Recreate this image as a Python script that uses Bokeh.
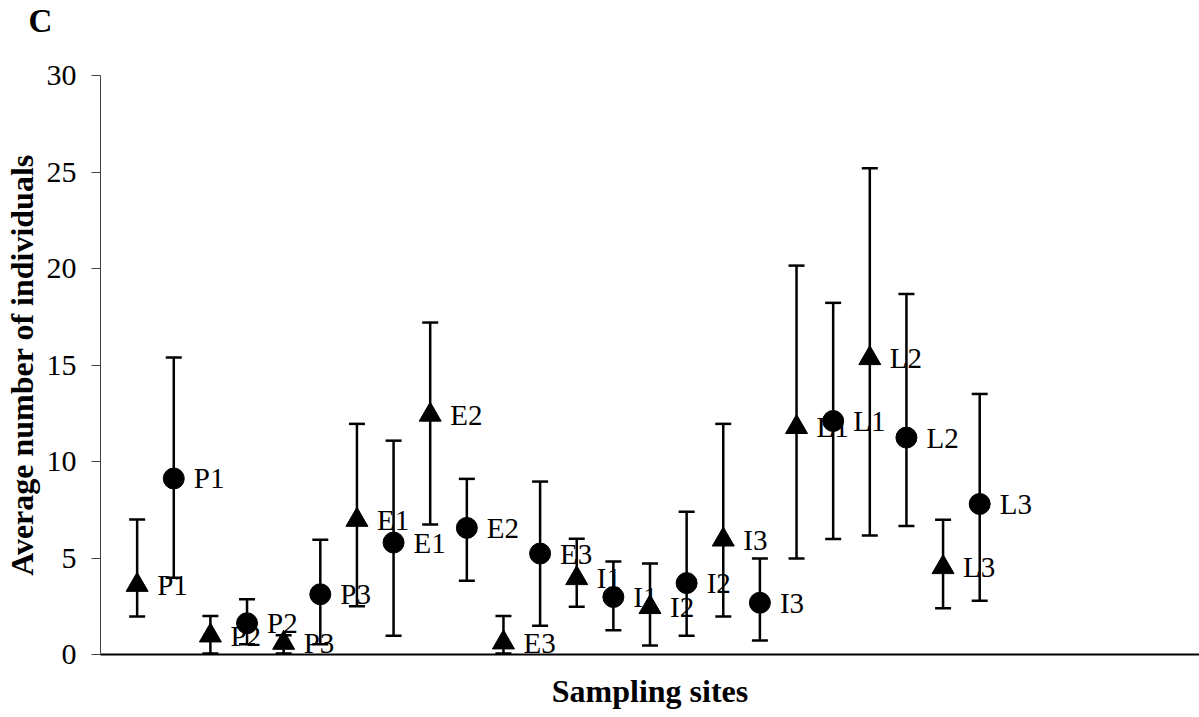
from bokeh.plotting import figure
from bokeh.models import ColumnDataSource, Whisker, TeeHead, FixedTicker, Range1d, Title
from bokeh.core.properties import value
from bokeh.embed import file_html
from bokeh.resources import INLINE

# Triangle series (odd positions) and circle series (even positions)
tri_labels = ["P1", "P2", "P3", "E1", "E2", "E3", "I1", "I2", "I3", "L1", "L2", "L3"]
tri_x = [1, 3, 5, 7, 9, 11, 13, 15, 17, 19, 21, 23]
tri_mean = [3.6, 0.98, 0.6, 6.97, 12.42, 0.62, 3.95, 2.45, 5.95, 11.78, 15.35, 4.52]
tri_upper = [7.0, 2.0, 1.0, 11.95, 17.2, 2.0, 6.0, 4.72, 11.95, 20.15, 25.2, 6.98]
tri_lower = [1.97, 0.05, 0.05, 2.5, 6.74, 0.05, 2.48, 0.46, 1.97, 4.97, 6.17, 2.4]

circ_labels = ["P1", "P2", "P3", "E1", "E2", "E3", "I1", "I2", "I3", "L1", "L2", "L3"]
circ_x = [2, 4, 6, 8, 10, 12, 14, 16, 18, 20, 22, 24]
circ_mean = [9.12, 1.62, 3.12, 5.8, 6.56, 5.23, 2.98, 3.7, 2.68, 12.1, 11.24, 7.8]
circ_upper = [15.39, 2.86, 5.95, 11.08, 9.1, 8.96, 4.82, 7.4, 4.98, 18.22, 18.68, 13.5]
circ_lower = [3.98, 0.53, 0.53, 0.97, 3.82, 1.49, 1.26, 0.97, 0.72, 5.98, 6.66, 2.78]

y_ticks = [0, 5, 10, 15, 20, 25, 30]

FONT = "Liberation Serif"

p = figure(width=1199, height=717, output_backend="svg", toolbar_location=None,
           x_range=Range1d(0, 30), y_range=Range1d(0, 30),
           min_border_left=99, min_border_right=0, min_border_top=75, min_border_bottom=63)
p.title = None
p.outline_line_color = None
p.grid.visible = False
p.background_fill_color = "white"
p.border_fill_color = "white"

# spacer (closest to frame) then the panel letter above it
spacer = Title(text=" ", text_font=FONT, text_font_size="28px", standoff=0)
letter = Title(text="C", align="left", offset=-72, standoff=4, vertical_align="top",
               text_font=FONT, text_font_size="33px", text_font_style="bold", text_color="black")
p.add_layout(spacer, "above")
p.add_layout(letter, "above")

tri_src = ColumnDataSource(dict(x=tri_x, y=tri_mean, up=tri_upper, lo=tri_lower, lab=tri_labels))
circ_src = ColumnDataSource(dict(x=circ_x, y=circ_mean, up=circ_upper, lo=circ_lower, lab=circ_labels))

for src in (tri_src, circ_src):
    w = Whisker(source=src, base="x", upper="up", lower="lo", dimension="height",
                line_color="black", line_width=2.5,
                upper_head=TeeHead(size=16, line_width=2.5, line_color="black"),
                lower_head=TeeHead(size=16, line_width=2.5, line_color="black"))
    p.add_layout(w)

p.scatter("x", "y", source=tri_src, marker="triangle", size=22, fill_color="black", line_color="black")
p.scatter("x", "y", source=circ_src, marker="circle", size=21, fill_color="black", line_color="black")

for src in (tri_src, circ_src):
    p.text("x", "y", text="lab", source=src, x_offset=20, text_baseline="middle", text_align="left",
           text_font=value(FONT), text_font_size="29px", text_color="black")

# y axis
ya = p.yaxis[0]
ya.ticker = FixedTicker(ticks=y_ticks)
ya.minor_tick_line_color = None
ya.major_tick_in = 0
ya.major_tick_out = 9
ya.major_tick_line_color = "#404040"
ya.axis_line_color = "#404040"
ya.major_label_standoff = 15
ya.major_label_text_font = FONT
ya.major_label_text_font_size = "30px"
ya.major_label_text_color = "black"
ya.axis_label = "Average number of individuals"
ya.axis_label_text_font = FONT
ya.axis_label_text_font_size = "32px"
ya.axis_label_text_font_style = "bold"
ya.axis_label_text_color = "black"
ya.axis_label_standoff = 4

# x axis
xa = p.xaxis[0]
xa.ticker = FixedTicker(ticks=[])
xa.minor_tick_line_color = None
xa.major_tick_line_color = None
xa.major_label_standoff = 0
xa.axis_line_color = "black"
xa.axis_line_width = 2
xa.axis_label = "Sampling sites"
xa.axis_label_text_font = FONT
xa.axis_label_text_font_size = "32px"
xa.axis_label_text_font_style = "bold"
xa.axis_label_text_color = "black"
xa.axis_label_standoff = 18

open("out.html", "w").write(file_html(p, INLINE))
